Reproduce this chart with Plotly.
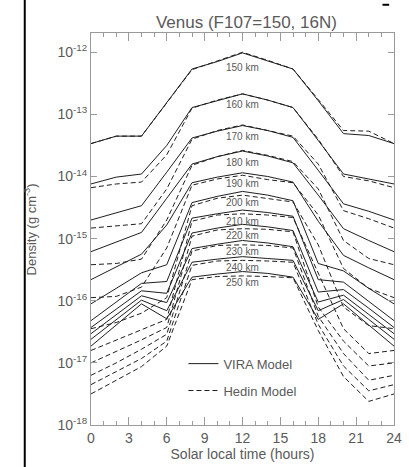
import plotly.graph_objects as go

# ---------------- data (log10 density, g cm^-3) ----------------
hours = [0, 2, 4, 6, 8, 10, 12, 14, 16, 18, 20, 22, 24]
altitudes = [150, 160, 170, 180, 190, 200, 210, 220, 230, 240, 250]

vira_150 = [-13.47, -13.35, -13.35, -12.81, -12.27, -12.15, -12.01, -12.14, -12.27, -12.78, -13.31, -13.34, -13.47]
vira_160 = [-14.12, -14.01, -13.96, -13.50, -12.89, -12.78, -12.67, -12.77, -12.89, -13.42, -13.96, -14.04, -14.12]
vira_170 = [-14.70, -14.59, -14.47, -13.93, -13.38, -13.27, -13.18, -13.26, -13.37, -13.90, -14.44, -14.56, -14.70]
vira_180 = [-15.21, -15.05, -14.90, -14.35, -13.80, -13.68, -13.59, -13.67, -13.78, -14.30, -14.84, -15.03, -15.21]
vira_190 = [-15.66, -15.45, -15.25, -14.78, -14.10, -14.01, -13.94, -14.00, -14.09, -14.72, -15.27, -15.47, -15.66]
vira_200 = [-16.05, -15.80, -15.55, -15.42, -14.42, -14.32, -14.24, -14.30, -14.39, -15.40, -15.52, -15.80, -16.05]
vira_210 = [-16.32, -16.02, -15.72, -15.69, -14.67, -14.60, -14.54, -14.58, -14.64, -15.66, -15.70, -16.01, -16.32]
vira_220 = [-16.43, -16.13, -15.84, -15.88, -14.91, -14.83, -14.77, -14.81, -14.87, -15.86, -15.82, -16.12, -16.43]
vira_230 = [-16.53, -16.22, -15.92, -16.03, -15.16, -15.09, -15.03, -15.07, -15.13, -16.02, -15.91, -16.22, -16.53]
vira_240 = [-16.62, -16.30, -15.99, -16.16, -15.38, -15.33, -15.29, -15.32, -15.35, -16.16, -15.98, -16.30, -16.62]
vira_250 = [-16.73, -16.39, -16.05, -16.29, -15.62, -15.57, -15.53, -15.56, -15.62, -16.30, -16.05, -16.39, -16.73]

hedin_150 = [-13.47, -13.35, -13.35, -12.82, -12.28, -12.14, -12.00, -12.13, -12.27, -12.76, -13.26, -13.27, -13.47]
hedin_160 = [-14.18, -14.12, -14.09, -13.65, -12.90, -12.77, -12.67, -12.77, -12.89, -13.40, -14.00, -14.07, -14.18]
hedin_170 = [-14.83, -14.80, -14.76, -14.20, -13.40, -13.26, -13.17, -13.26, -13.35, -13.80, -14.55, -14.68, -14.83]
hedin_180 = [-15.42, -15.40, -15.33, -14.70, -13.82, -13.68, -13.58, -13.66, -13.76, -14.20, -15.03, -15.32, -15.42]
hedin_190 = [-15.95, -15.93, -15.78, -15.15, -14.14, -14.04, -13.98, -14.05, -14.10, -14.62, -15.48, -15.80, -15.95]
hedin_200 = [-16.45, -16.35, -16.20, -15.95, -14.47, -14.35, -14.30, -14.35, -14.41, -15.10, -16.10, -16.40, -16.45]
hedin_210 = [-16.80, -16.63, -16.47, -16.30, -14.72, -14.62, -14.60, -14.62, -14.66, -15.55, -16.45, -16.85, -16.80]
hedin_220 = [-17.00, -16.82, -16.63, -16.43, -14.96, -14.86, -14.84, -14.85, -14.89, -16.10, -16.65, -17.05, -17.00]
hedin_230 = [-17.20, -17.00, -16.78, -16.54, -15.20, -15.11, -15.10, -15.11, -15.15, -16.25, -16.85, -17.28, -17.20]
hedin_240 = [-17.35, -17.14, -16.93, -16.65, -15.43, -15.36, -15.35, -15.36, -15.38, -16.38, -17.05, -17.45, -17.35]
hedin_250 = [-17.50, -17.28, -17.06, -16.73, -15.66, -15.61, -15.60, -15.61, -15.63, -16.48, -17.22, -17.62, -17.50]

vira_rows = [vira_150, vira_160, vira_170, vira_180, vira_190, vira_200,
             vira_210, vira_220, vira_230, vira_240, vira_250]
hedin_rows = [hedin_150, hedin_160, hedin_170, hedin_180, hedin_190, hedin_200,
              hedin_210, hedin_220, hedin_230, hedin_240, hedin_250]

x_ticks = [0, 3, 6, 9, 12, 15, 18, 21, 24]
y_exponents = [-18, -17, -16, -15, -14, -13, -12]

# ---------------- figure ----------------
FONT = "Liberation Sans, Arial, sans-serif"
TXT = "#5a5a5a"
AXC = "#9a9a9a"
LINE = "#1e1e1e"

fig = go.Figure()

for i, alt in enumerate(altitudes):
    fig.add_trace(go.Scatter(
        x=hours, y=[10 ** v for v in vira_rows[i]], mode="lines",
        line=dict(color=LINE, width=1), showlegend=(i == 0),
        name="VIRA Model", legendgroup="vira", hoverinfo="skip"))
for i, alt in enumerate(altitudes):
    fig.add_trace(go.Scatter(
        x=hours, y=[10 ** v for v in hedin_rows[i]], mode="lines",
        line=dict(color=LINE, width=1, dash="5px,3px"), showlegend=(i == 0),
        name="Hedin Model", legendgroup="hedin", hoverinfo="skip"))

for i, alt in enumerate(altitudes):
    fig.add_annotation(x=12, y=vira_rows[i][hours.index(12)], xref="x", yref="y",
                       text=f"{alt} km", showarrow=False,
                       yshift=-15 if i == 0 else -11,
                       font=dict(family=FONT, size=10, color=TXT))

# y-axis title as a rotated annotation
fig.add_annotation(x=-0.2, y=0.5, xref="paper", yref="paper",
                   text="Density (g cm<sup>-3</sup>)", textangle=-90,
                   showarrow=False, xanchor="center", yanchor="middle",
                   font=dict(family=FONT, size=13, color=TXT))

# scan artefacts (vertical bar at the left, tiny dash at the top right)
fig.add_shape(type="line", xref="paper", yref="paper", x0=-0.2186, x1=-0.2186,
              y0=-0.12, y1=1.1, line=dict(color="black", width=2))
fig.add_shape(type="line", xref="paper", yref="paper", x0=0.962, x1=0.984,
              y0=1.072, y1=1.072, line=dict(color="black", width=2))

fig.update_layout(
    width=409, height=467,
    margin=dict(l=91, r=7, t=33, b=42),
    paper_bgcolor="white", plot_bgcolor="white",
    title=dict(text="Venus (F107=150, 16N)", x=0.6025, xanchor="center",
               y=0.953, yanchor="middle",
               font=dict(family=FONT, size=17, color=TXT)),
    showlegend=True,
    legend=dict(x=0.305, y=0.122, xanchor="left", yanchor="middle",
                bgcolor="rgba(0,0,0,0)", traceorder="grouped",
                tracegroupgap=7, itemwidth=30,
                font=dict(family=FONT, size=13, color=TXT)),
    font=dict(family=FONT, color=TXT),
)

fig.update_xaxes(
    range=[0, 24], tickvals=x_ticks, ticktext=[str(t) for t in x_ticks],
    ticks="inside", ticklen=8, tickcolor=AXC, tickwidth=1,
    ticklabeloverflow="allow",
    minor=dict(dtick=1, ticks="inside", ticklen=4, tickcolor=AXC),
    showline=True, linecolor=AXC, linewidth=1, mirror="allticks",
    showgrid=False, zeroline=False,
    tickfont=dict(family=FONT, size=14, color=TXT),
    title=dict(text="Solar local time (hours)", standoff=2,
               font=dict(family=FONT, size=14, color=TXT)),
)
fig.update_yaxes(
    type="log", range=[-18, -11.69],
    tickvals=[10 ** e for e in y_exponents],
    ticktext=[f"10<sup>{e}</sup>" for e in y_exponents],
    ticks="inside", ticklen=6, tickcolor=AXC, tickwidth=1,
    showline=True, linecolor=AXC, linewidth=1, mirror="allticks",
    showgrid=False, zeroline=False,
    tickfont=dict(family=FONT, size=14, color=TXT),
)

fig.write_html("out.html")
